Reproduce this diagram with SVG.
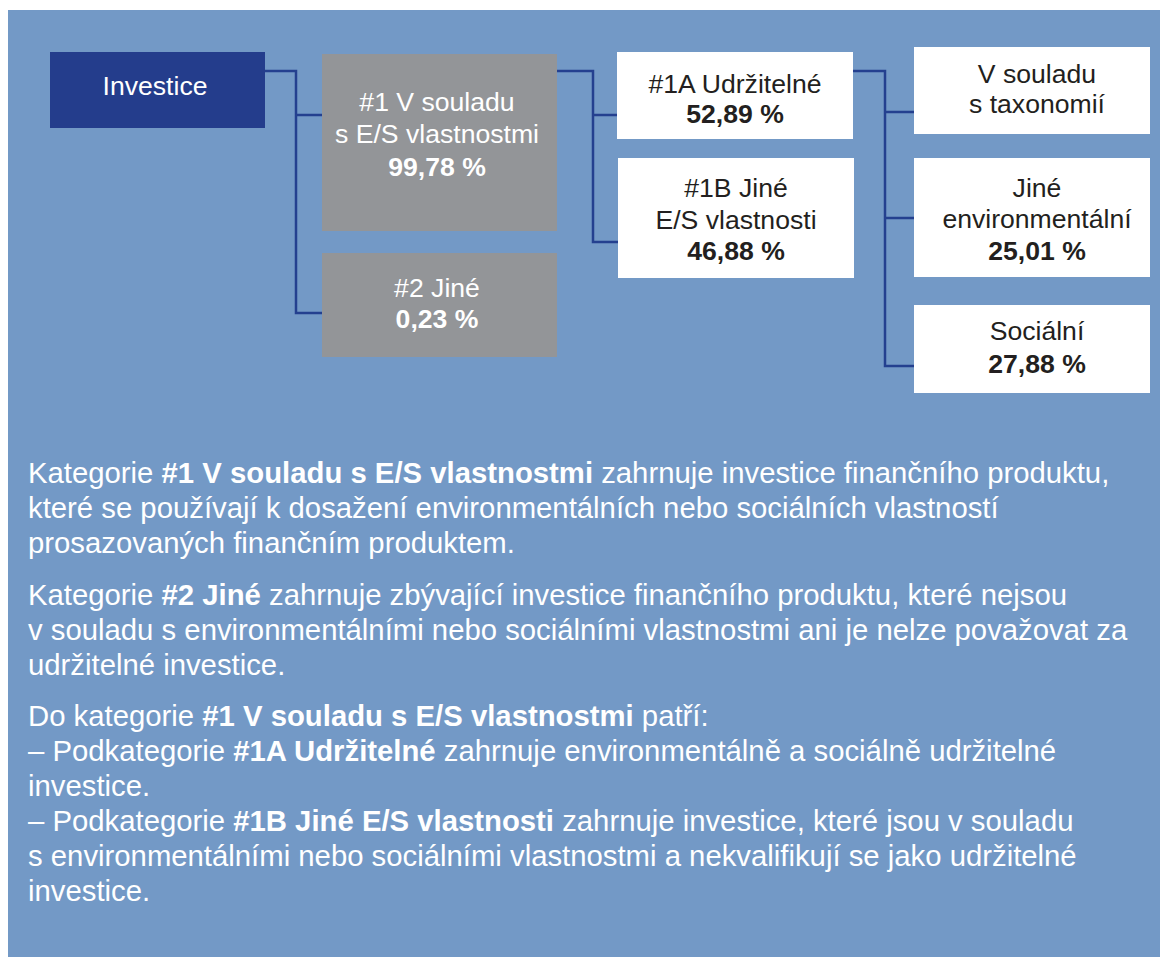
<svg xmlns="http://www.w3.org/2000/svg" width="1160" height="957" viewBox="0 0 1160 957">
<style>
.bg{fill:#7399c6}
.navy{fill:#243d8c}
.gray{fill:#939598}
.white{fill:#ffffff}
.conn{fill:none;stroke:#24408f;stroke-width:2.5}
.nt{font-family:"Liberation Sans",Arial,sans-serif;font-size:26.6px;text-anchor:middle}
.lt{fill:#ffffff}
.dk{fill:#231f20}
.b{font-weight:bold}
.body{font-family:"Liberation Sans",Arial,sans-serif;font-size:29.3px;fill:#ffffff}
</style>
<rect x="0" y="0" width="1160" height="957" fill="#ffffff"/>
<rect class="bg" x="8" y="10" width="1152" height="947"/>
<g id="connectors">
<path class="conn" d="M265,71 H296 V313 H322 M296,115 H322"/>
<path class="conn" d="M557,71 H593 V242 H618 M593,115 H617"/>
<path class="conn" d="M853,71 H885 V366 H914 M885,112 H914 M885,218 H914"/>
</g>
<g id="investice">
<rect class="navy" x="50" y="52" width="215" height="76"/>
<text class="nt lt" x="155" y="95">Investice</text>
</g>
<g id="n1">
<rect class="gray" x="322" y="54" width="235" height="177"/>
<text class="nt lt" x="437" y="111">#1 V souladu</text>
<text class="nt lt" x="437" y="143">s E/S vlastnostmi</text>
<text class="nt lt b" x="437" y="176">99,78 %</text>
</g>
<g id="n2">
<rect class="gray" x="322" y="253" width="235" height="104"/>
<text class="nt lt" x="437" y="297">#2 Jiné</text>
<text class="nt lt b" x="437" y="328">0,23 %</text>
</g>
<g id="n1a">
<rect class="white" x="617" y="52" width="236" height="87"/>
<text class="nt dk" x="735" y="93">#1A Udržitelné</text>
<text class="nt dk b" x="735" y="123">52,89 %</text>
</g>
<g id="n1b">
<rect class="white" x="618" y="158" width="236" height="120"/>
<text class="nt dk" x="736" y="197">#1B Jiné</text>
<text class="nt dk" x="736" y="229">E/S vlastnosti</text>
<text class="nt dk b" x="736" y="260">46,88 %</text>
</g>
<g id="taxonomie">
<rect class="white" x="914" y="47" width="236" height="87"/>
<text class="nt dk" x="1037" y="83">V souladu</text>
<text class="nt dk" x="1037" y="113">s taxonomií</text>
</g>
<g id="jine-env">
<rect class="white" x="914" y="158" width="236" height="119"/>
<text class="nt dk" x="1037" y="197">Jiné</text>
<text class="nt dk" x="1037" y="228">environmentální</text>
<text class="nt dk b" x="1037" y="260">25,01 %</text>
</g>
<g id="socialni">
<rect class="white" x="914" y="305" width="236" height="88"/>
<text class="nt dk" x="1037" y="340">Sociální</text>
<text class="nt dk b" x="1037" y="373">27,88 %</text>
</g>
<g id="legend">
<text class="body" x="28" y="483">Kategorie <tspan class="b">#1 V souladu s E/S vlastnostmi</tspan> zahrnuje investice finančního produktu,</text>
<text class="body" x="28" y="518">které se používají k dosažení environmentálních nebo sociálních vlastností</text>
<text class="body" x="28" y="553">prosazovaných finančním produktem.</text>
<text class="body" x="28" y="605">Kategorie <tspan class="b">#2 Jiné</tspan> zahrnuje zbývající investice finančního produktu, které nejsou</text>
<text class="body" x="28" y="640">v souladu s environmentálními nebo sociálními vlastnostmi ani je nelze považovat za</text>
<text class="body" x="28" y="675">udržitelné investice.</text>
<text class="body" x="28" y="726">Do kategorie <tspan class="b">#1 V souladu s E/S vlastnostmi</tspan> patří:</text>
<text class="body" x="28" y="761">– Podkategorie <tspan class="b">#1A Udržitelné</tspan> zahrnuje environmentálně a sociálně udržitelné</text>
<text class="body" x="28" y="796">investice.</text>
<text class="body" x="28" y="831">– Podkategorie <tspan class="b">#1B Jiné E/S vlastnosti</tspan> zahrnuje investice, které jsou v souladu</text>
<text class="body" x="28" y="866">s environmentálními nebo sociálními vlastnostmi a nekvalifikují se jako udržitelné</text>
<text class="body" x="28" y="901">investice.</text>
</g>
</svg>
